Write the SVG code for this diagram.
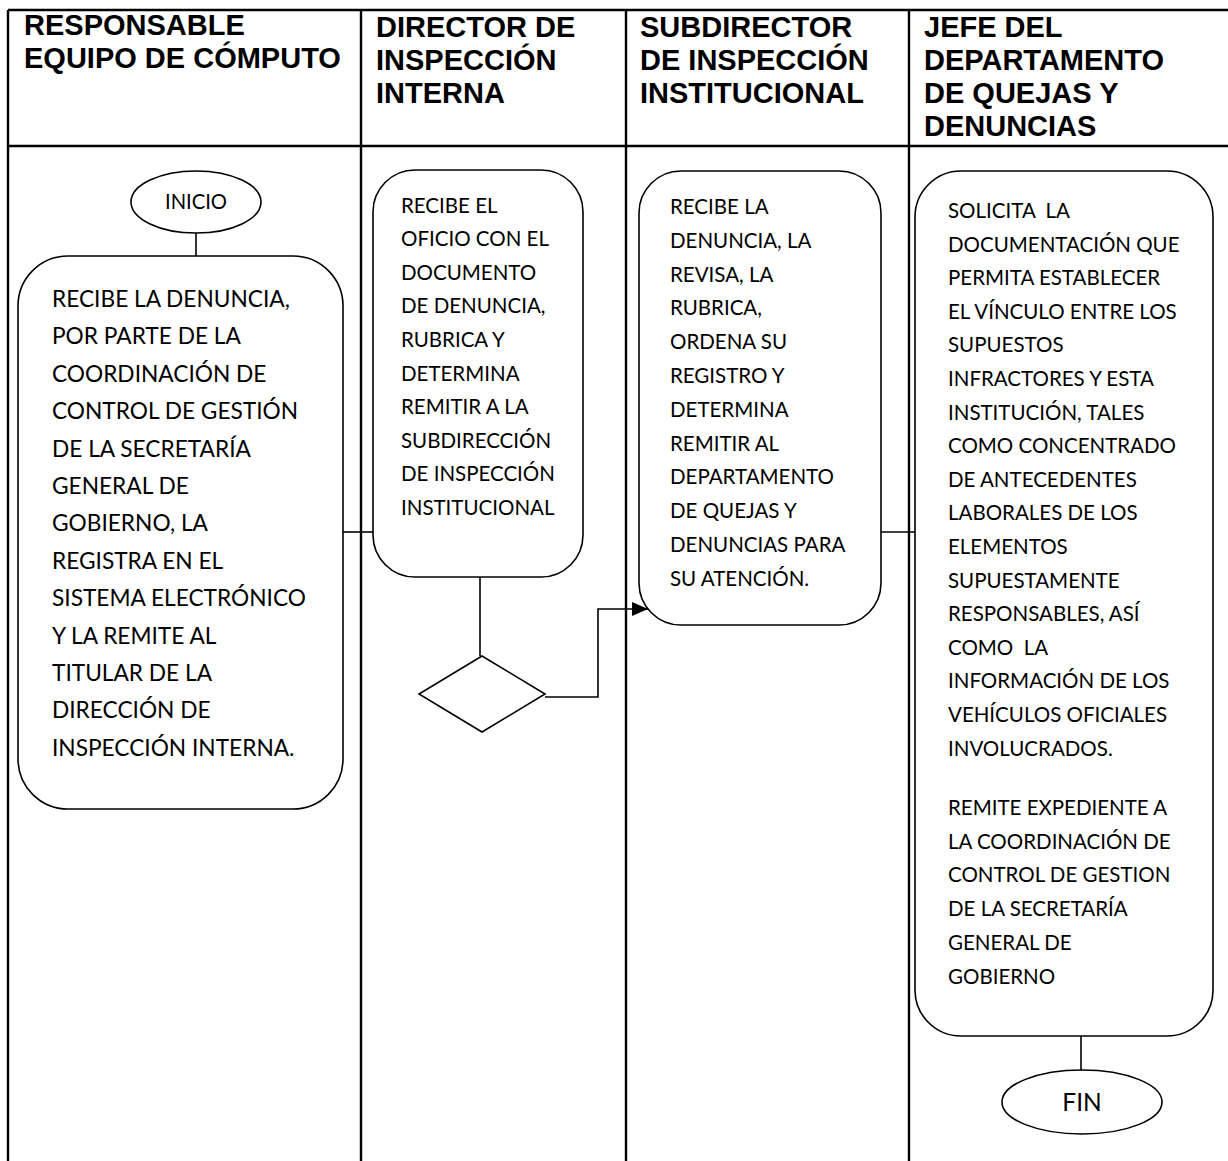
<svg xmlns="http://www.w3.org/2000/svg" width="1228" height="1161" viewBox="0 0 1228 1161">
<style>
.grid{stroke:#000;stroke-width:2.4;fill:none}
.shape{stroke:#000;stroke-width:1.6;fill:#fff}
.conn{stroke:#000;stroke-width:1.6;fill:none}
.hdr{font-family:"Liberation Sans",Arial,sans-serif;font-weight:bold;font-size:29px;fill:#000}
.body{font-family:Lato,"Open Sans",sans-serif;font-size:20.5px;fill:#000}
.big{font-family:Lato,"Open Sans",sans-serif;font-size:22.7px;fill:#000}
.term{font-family:Lato,"Open Sans",sans-serif;fill:#000}
</style>
<defs>
<marker id="arrow" viewBox="0 0 16 14" refX="16" refY="7" markerWidth="16" markerHeight="14" markerUnits="userSpaceOnUse" orient="auto">
<path d="M0,0 L16,7 L0,14 z" fill="#000"/>
</marker>
</defs>
<rect width="1228" height="1161" fill="#fff"/>
<g id="table">
<line class="grid" x1="8" y1="10" x2="1228" y2="10"/>
<line class="grid" x1="8" y1="146" x2="1228" y2="146"/>
<line class="grid" x1="8" y1="10" x2="8" y2="1161"/>
<line class="grid" x1="361" y1="10" x2="361" y2="1161"/>
<line class="grid" x1="626" y1="10" x2="626" y2="1161"/>
<line class="grid" x1="909" y1="10" x2="909" y2="1161"/>
</g>
<g id="headers">
<text class="hdr" x="24" y="35">RESPONSABLE</text>
<text class="hdr" x="24" y="68">EQUIPO DE CÓMPUTO</text>
<text class="hdr" x="376" y="37">DIRECTOR DE</text>
<text class="hdr" x="376" y="70">INSPECCIÓN</text>
<text class="hdr" x="376" y="103">INTERNA</text>
<text class="hdr" x="640" y="37">SUBDIRECTOR</text>
<text class="hdr" x="640" y="70">DE INSPECCIÓN</text>
<text class="hdr" x="640" y="103">INSTITUCIONAL</text>
<text class="hdr" x="924" y="37">JEFE DEL</text>
<text class="hdr" x="924" y="70">DEPARTAMENTO</text>
<text class="hdr" x="924" y="103">DE QUEJAS Y</text>
<text class="hdr" x="924" y="136">DENUNCIAS</text>
</g>
<g id="connectors">
<line class="conn" x1="196" y1="233" x2="196" y2="256"/>
<line class="conn" x1="342" y1="532" x2="373" y2="532"/>
<line class="conn" x1="480" y1="577" x2="480" y2="656"/>
<polyline class="conn" points="545,697 598,697 598,609 648,609" marker-end="url(#arrow)"/>
<line class="conn" x1="881" y1="532" x2="915" y2="532"/>
<line class="conn" x1="1081" y1="1036" x2="1081" y2="1071"/>
</g>
<g id="inicio">
<ellipse class="shape" cx="196" cy="202" rx="65" ry="31"/>
<text class="term" x="196" y="209" font-size="20.2" text-anchor="middle">INICIO</text>
</g>
<g id="step1">
<rect class="shape" x="18" y="256" width="325" height="553" rx="50" ry="50"/>
<text class="big">
<tspan x="52" y="307">RECIBE LA DENUNCIA,</tspan>
<tspan x="52" y="344.4">POR PARTE DE LA</tspan>
<tspan x="52" y="381.8">COORDINACIÓN DE</tspan>
<tspan x="52" y="419.2">CONTROL DE GESTIÓN</tspan>
<tspan x="52" y="456.6">DE LA SECRETARÍA</tspan>
<tspan x="52" y="494">GENERAL DE</tspan>
<tspan x="52" y="531.4">GOBIERNO, LA</tspan>
<tspan x="52" y="568.8">REGISTRA EN EL</tspan>
<tspan x="52" y="606.2">SISTEMA ELECTRÓNICO</tspan>
<tspan x="52" y="643.6">Y LA REMITE AL</tspan>
<tspan x="52" y="681">TITULAR DE LA</tspan>
<tspan x="52" y="718.4">DIRECCIÓN DE</tspan>
<tspan x="52" y="755.8">INSPECCIÓN INTERNA.</tspan>
</text>
</g>
<g id="step2">
<rect class="shape" x="373" y="170" width="210" height="407" rx="42" ry="42"/>
<text class="body">
<tspan x="401" y="212.5">RECIBE EL</tspan>
<tspan x="401" y="246.1">OFICIO CON EL</tspan>
<tspan x="401" y="279.7">DOCUMENTO</tspan>
<tspan x="401" y="313.3">DE DENUNCIA,</tspan>
<tspan x="401" y="346.9">RUBRICA Y</tspan>
<tspan x="401" y="380.5">DETERMINA</tspan>
<tspan x="401" y="414.1">REMITIR A LA</tspan>
<tspan x="401" y="447.7">SUBDIRECCIÓN</tspan>
<tspan x="401" y="481.3">DE INSPECCIÓN</tspan>
<tspan x="401" y="514.9">INSTITUCIONAL</tspan>
</text>
</g>
<g id="decision">
<polygon class="shape" points="482,656 545,694 482,732 419,694"/>
</g>
<g id="step3">
<rect class="shape" x="639" y="171" width="242" height="454" rx="42" ry="42"/>
<text class="body">
<tspan x="670" y="214">RECIBE LA</tspan>
<tspan x="670" y="247.8">DENUNCIA, LA</tspan>
<tspan x="670" y="281.6">REVISA, LA</tspan>
<tspan x="670" y="315.4">RUBRICA,</tspan>
<tspan x="670" y="349.2">ORDENA SU</tspan>
<tspan x="670" y="383">REGISTRO Y</tspan>
<tspan x="670" y="416.8">DETERMINA</tspan>
<tspan x="670" y="450.6">REMITIR AL</tspan>
<tspan x="670" y="484.4">DEPARTAMENTO</tspan>
<tspan x="670" y="518.2">DE QUEJAS Y</tspan>
<tspan x="670" y="552">DENUNCIAS PARA</tspan>
<tspan x="670" y="585.8">SU ATENCIÓN.</tspan>
</text>
</g>
<g id="step4">
<rect class="shape" x="915" y="171" width="298" height="865" rx="46" ry="46"/>
<text class="body" xml:space="preserve">
<tspan x="948" y="218">SOLICITA  LA</tspan>
<tspan x="948" y="251.6">DOCUMENTACIÓN QUE</tspan>
<tspan x="948" y="285.2">PERMITA ESTABLECER</tspan>
<tspan x="948" y="318.8">EL VÍNCULO ENTRE LOS</tspan>
<tspan x="948" y="352.4">SUPUESTOS</tspan>
<tspan x="948" y="386">INFRACTORES Y ESTA</tspan>
<tspan x="948" y="419.6">INSTITUCIÓN, TALES</tspan>
<tspan x="948" y="453.2">COMO CONCENTRADO</tspan>
<tspan x="948" y="486.8">DE ANTECEDENTES</tspan>
<tspan x="948" y="520.4">LABORALES DE LOS</tspan>
<tspan x="948" y="554">ELEMENTOS</tspan>
<tspan x="948" y="587.6">SUPUESTAMENTE</tspan>
<tspan x="948" y="621.2">RESPONSABLES, ASÍ</tspan>
<tspan x="948" y="654.8">COMO  LA</tspan>
<tspan x="948" y="688.4">INFORMACIÓN DE LOS</tspan>
<tspan x="948" y="722">VEHÍCULOS OFICIALES</tspan>
<tspan x="948" y="755.6">INVOLUCRADOS.</tspan>
<tspan x="948" y="815">REMITE EXPEDIENTE A</tspan>
<tspan x="948" y="848.7">LA COORDINACIÓN DE</tspan>
<tspan x="948" y="882.4">CONTROL DE GESTION</tspan>
<tspan x="948" y="916.1">DE LA SECRETARÍA</tspan>
<tspan x="948" y="949.8">GENERAL DE</tspan>
<tspan x="948" y="983.5">GOBIERNO</tspan>
</text>
</g>
<g id="fin">
<ellipse class="shape" cx="1082" cy="1102" rx="80" ry="32"/>
<text class="term" x="1082" y="1111" font-size="24.5" text-anchor="middle">FIN</text>
</g>
</svg>
